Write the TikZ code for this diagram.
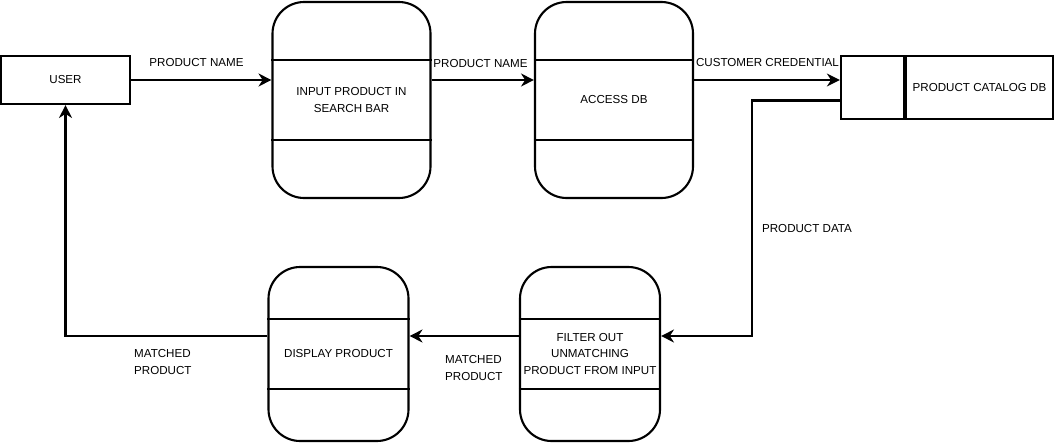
\documentclass[tikz,border=0pt]{standalone}
\usepackage{fontspec}
\setmainfont{Liberation Sans}
\usetikzlibrary{calc,positioning,arrows.meta}
\tikzset{
  box/.style={draw, line width=1.8pt, inner sep=0pt, font=\fontsize{9.9}{13.8}\selectfont, align=center},
  process/.style={box, rounded corners=0.95cm, minimum width=4.74cm, minimum height=5.88cm},
  smallprocess/.style={process, minimum width=4.2cm, minimum height=5.22cm},
  flow/.style={line width=1.8pt, -{Stealth[length=11pt,width=11pt,inset=3.5pt]}},
  lbl/.style={font=\fontsize{9.9}{13.8}\selectfont, inner sep=0pt, align=left},
}

\begin{document}
\begin{tikzpicture}[x=0.03cm,y=-0.03cm]
		%%%%% START %%%%%
		\useasboundingbox (0,0) rectangle (1055,444);
		
		\node[box, minimum width=3.87cm, minimum height=1.44cm] (user) at (65.5,80) {USER};
		\node[process] (input) at (351.5,100) {INPUT PRODUCT IN\\SEARCH BAR};
		\node[process] (access) at (614,100) {ACCESS DB};
		\node[box, minimum width=4.41cm, minimum height=1.89cm] (catalog) at (979.5,87.5) {PRODUCT CATALOG DB};
		\node[box, minimum width=1.89cm, minimum height=1.89cm, left=0pt of catalog] (storeid) {};
		
		\node[smallprocess] (filter) at (590,354) {FILTER OUT\\UNMATCHING\\PRODUCT FROM INPUT};
		\node[smallprocess] (display) at (338.5,354) {DISPLAY PRODUCT};
		
		\foreach \n in {input,access,filter,display}{
			\draw[line width=1.8pt] ($(\n.north west)!0.3!(\n.south west)$) -- ($(\n.north east)!0.3!(\n.south east)$);
			\draw[line width=1.8pt] ($(\n.north west)!0.7!(\n.south west)$) -- ($(\n.north east)!0.7!(\n.south east)$);
		}
		
		\coordinate (src) at ($(storeid.north west)!0.7!(storeid.south west)$);
		\coordinate (bend) at (752,336);
		
		\draw[flow] (user.east) -- (input.west |- user.east);
		\draw[flow] (input.east |- user.east) -- (access.west |- user.east);
		\draw[flow] (access.east |- user.east) -- (storeid.west |- user.east);
		\draw[flow] (src) -| (bend) -- (filter.east |- bend);
		\draw[flow] (filter.west |- bend) -- (display.east |- bend);
		\draw[flow] (display.west |- bend) -| (user.south);
		
		\node[lbl] (name1) at (196.5,63) {PRODUCT NAME};
		\node[lbl] (name2) at (480.5,64) {PRODUCT NAME};
		\node[lbl] (cred) at (767.5,63) {CUSTOMER CREDENTIAL};
		\node[lbl] (data) at (807,229) {PRODUCT DATA};
		\node[lbl, anchor=west] (match1) at (445,368) {MATCHED\\PRODUCT};
		\node[lbl, anchor=west] (match2) at (134,362) {MATCHED\\PRODUCT};
		
		%%%%% END %%%%%
	\end{tikzpicture}
\end{document}
